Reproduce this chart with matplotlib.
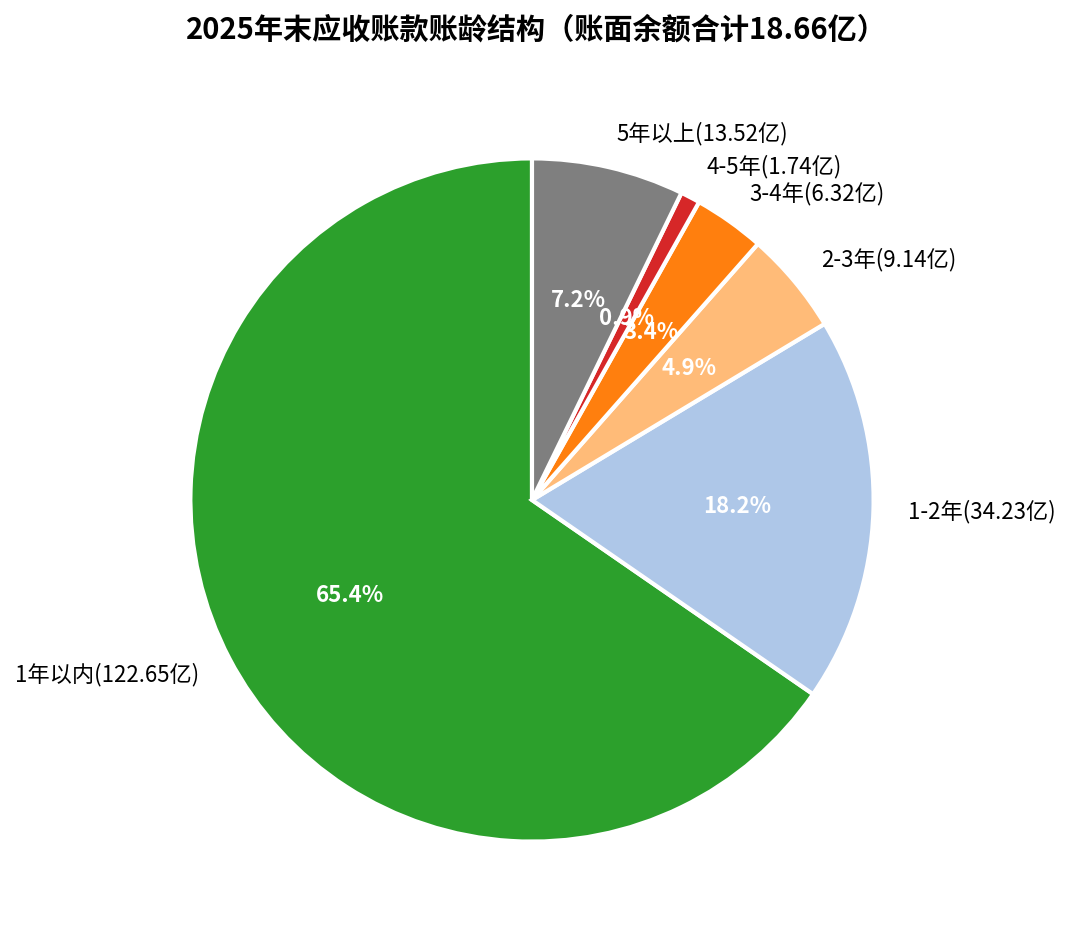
import matplotlib.pyplot as plt

plt.rcParams['font.family'] = ['Noto Sans CJK SC', 'DejaVu Sans']

# 账龄区间及账面余额（亿元）
categories = ['1年以内', '1-2年', '2-3年', '3-4年', '4-5年', '5年以上']
amounts = [122.65, 34.23, 9.14, 6.32, 1.74, 13.52]
colors = ['#2ca02c', '#aec7e8', '#ffbb78', '#ff7f0e', '#d62728', '#7f7f7f']

labels = [f'{c}({a:.2f}亿)' for c, a in zip(categories, amounts)]

fig = plt.figure(figsize=(10.72, 9.44), dpi=100)
ax = fig.add_axes([105 / 1072, 17 / 944, 854 / 1072, 854 / 944])

wedges, texts, autotexts = ax.pie(
    amounts, labels=labels, colors=colors, autopct='%1.1f%%',
    startangle=90, counterclock=True,
    wedgeprops={'edgecolor': 'white', 'linewidth': 3},
    textprops={'fontsize': 16})
for t in autotexts:
    t.set_color('white')
    t.set_fontweight('bold')
    t.set_fontsize(16)
ax.set_aspect('equal')

fig.text(0.5, 1 - 30 / 944, '2025年末应收账款账龄结构（账面余额合计18.66亿）',
         ha='center', va='center', fontsize=21, fontweight='bold')

fig.savefig('out.png', dpi=100)
